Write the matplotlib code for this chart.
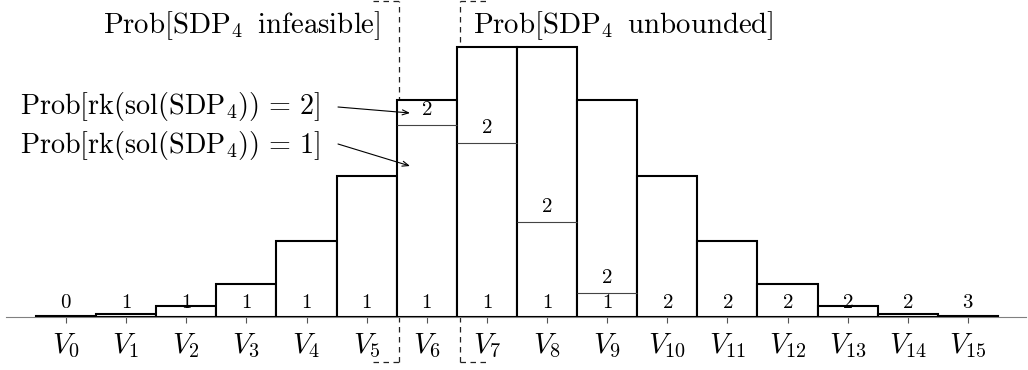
import matplotlib
matplotlib.use("Agg")
import matplotlib.pyplot as plt
import numpy as np

plt.rcParams['mathtext.fontset'] = 'cm'
plt.rcParams['font.family'] = ['DejaVu Sans']

# ---- data ----
categories = [f"$V_{{{k}}}$" for k in range(16)]
total_prob = [0.0004, 0.0020, 0.0073, 0.0220, 0.0507, 0.0940, 0.1447, 0.1800,
              0.1800, 0.1447, 0.0940, 0.0507, 0.0220, 0.0073, 0.0020, 0.0004]
# probability of the lower segment (rank of lower segment given in low_rank)
low_prob = [0.0004, 0.0020, 0.0073, 0.0220, 0.0507, 0.0940, 0.1280, 0.1162,
            0.0635, 0.0162, 0.0940, 0.0507, 0.0220, 0.0073, 0.0020, 0.0004]
low_rank = ['0', '1', '1', '1', '1', '1', '1', '1', '1', '1', '2', '2', '2', '2', '2', '3']
high_rank = ['', '', '', '', '', '', '2', '2', '2', '2', '', '', '', '', '', '']

W, H = 1028, 370
fig = plt.figure(figsize=(W / 100, H / 100), dpi=100)

# axes: spans from px x=6..1026, baseline at px y=317 (from top) up to top edge
base_px = 317
ax = fig.add_axes([6 / W, (H - base_px) / H, (1026 - 6) / W, base_px / H])
x0_px, step_px = 66.0, 60.13
ax.set_xlim((6 - x0_px) / step_px, (1026 - x0_px) / step_px)
yscale = 1500.0  # px per unit prob
ax.set_ylim(0, base_px / yscale)


def px2data(xp, yp):
    return (xp - x0_px) / step_px, (base_px - yp) / yscale


x = np.arange(len(categories))
ax.bar(x, total_prob, width=1.0, color='white', edgecolor='black',
       linewidth=1.5, zorder=3)

# divisions between rank segments
for i in range(len(x)):
    if high_rank[i]:
        ax.hlines(low_prob[i], x[i] - 0.5, x[i] + 0.5, color='#444444',
                  linewidth=0.8, zorder=4)

# segment labels
small = 15
for i in range(len(x)):
    ax.annotate(f"${low_rank[i]}$", (x[i], 0), xytext=(0, 11.0),
                textcoords='offset points', ha='center', va='center',
                fontsize=small, zorder=5)
    if high_rank[i]:
        ax.annotate(f"${high_rank[i]}$", (x[i], low_prob[i]), xytext=(0, 11.5),
                    textcoords='offset points', ha='center', va='center',
                    fontsize=small, zorder=5)

fs = 20.8
# axis styling
for s in ['top', 'right', 'left']:
    ax.spines[s].set_visible(False)
ax.spines['bottom'].set_color('#808080')
ax.spines['bottom'].set_linewidth(0.8)
ax.spines['bottom'].set_zorder(2)
ax.set_yticks([])
ax.set_xticks(x)
ax.set_xticklabels(categories, fontsize=fs)
ax.tick_params(axis='x', direction='out', length=4.5, width=0.8,
               color='#555555', pad=6)

# dashed brackets
dash = dict(color='#222222', linewidth=0.9, linestyle=(0, (4.4, 3.6)),
            clip_on=False, zorder=1)
yt = px2data(0, 0.5)[1]
yb = px2data(0, 362)[1]
xl = px2data(398.5, 0)[0]
xr = px2data(459.5, 0)[0]
ax.plot([xl, xl], [yb, yt], **dash)
ax.plot([xl - 0.42, xl], [yb, yb], **dash)
ax.plot([xl - 0.42, xl], [yt, yt], **dash)
ax.plot([xr, xr], [yb, yt], **dash)
ax.plot([xr, xr + 0.48], [yb, yb], **dash)
ax.plot([xr, xr + 0.48], [yt, yt], **dash)


def fp(xp, yp):
    return xp / W, 1 - yp / H


fig.text(*fp(380, 33), r"$\mathrm{Prob}[\mathrm{SDP}_4\;\;\mathrm{infeasible}]$",
         ha='right', va='baseline', fontsize=fs)
fig.text(*fp(473, 33), r"$\mathrm{Prob}[\mathrm{SDP}_4\;\;\mathrm{unbounded}]$",
         ha='left', va='baseline', fontsize=fs)
fs2 = 20.3
fig.text(*fp(20, 114), r"$\mathrm{Prob}[\mathrm{rk}(\mathrm{sol}(\mathrm{SDP}_4))\,=\,2]$",
         ha='left', va='baseline', fontsize=fs2)
fig.text(*fp(20, 153), r"$\mathrm{Prob}[\mathrm{rk}(\mathrm{sol}(\mathrm{SDP}_4))\,=\,1]$",
         ha='left', va='baseline', fontsize=fs2)

arrow = dict(arrowstyle='->,head_length=0.45,head_width=0.18', color='black',
             linewidth=0.8, shrinkA=0, shrinkB=0)
ax.annotate('', xy=px2data(410, 113), xycoords='data',
            xytext=fp(338, 107), textcoords='figure fraction',
            arrowprops=arrow, annotation_clip=False)
ax.annotate('', xy=px2data(410, 166), xycoords='data',
            xytext=fp(338, 144), textcoords='figure fraction',
            arrowprops=arrow, annotation_clip=False)

fig.savefig('out.png', dpi=100)
